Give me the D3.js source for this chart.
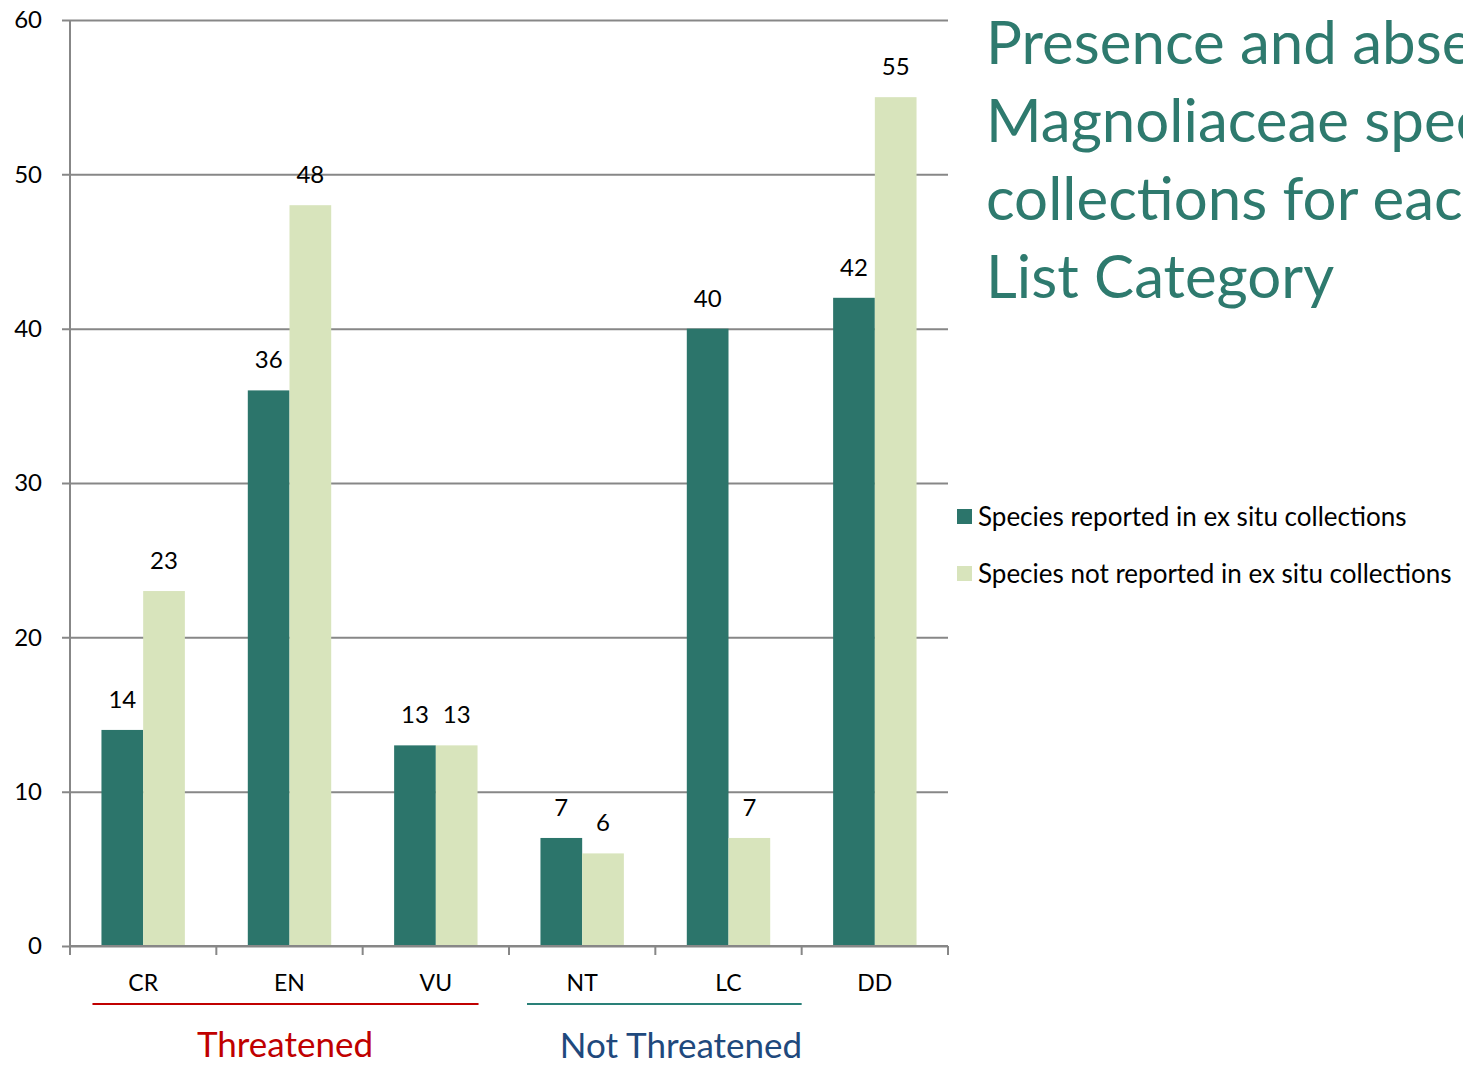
<!DOCTYPE html>
<html>
<head>
<meta charset="utf-8">
<script src="https://cdn.jsdelivr.net/npm/d3@7"></script>
<style>
  html, body { margin: 0; padding: 0; background: #fff; overflow: hidden; }
  svg { display: block; font-family: Lato, "Open Sans", sans-serif; }
</style>
</head>
<body>
<svg id="chart" width="1463" height="1066"></svg>
<script>
// Red List categories and species counts
const categories = ["CR", "EN", "VU", "NT", "LC", "DD"];
const reported = [14, 36, 13, 7, 40, 42];
const notReported = [23, 48, 13, 6, 7, 55];
const seriesNames = ["Species reported in ex situ collections", "Species not reported in ex situ collections"];
const yTicks = [0, 10, 20, 30, 40, 50, 60];
const titleLines = ["Presence and absence of", "Magnoliaceae species in ex situ", "collections for each Red", "List Category"];
const groups = [
  { name: "Threatened", from: "CR", to: "VU", color: "#c00000", line: "#c00000" },
  { name: "Not Threatened", from: "NT", to: "LC", color: "#1f497d", line: "#2a8078" }
];

(function () {
  const colors = ["#2c756b", "#d8e4bc"];
  const gridColor = "#878787";

  const svg = d3.select("#chart");
  const plotLeft = 70, plotRight = 948, plotTop = 20, plotBottom = 946;

  const x = d3.scaleBand().domain(categories).range([plotLeft, plotRight]).paddingInner(0.43).paddingOuter(0.215);
  const xSub = d3.scaleBand().domain([0, 1]).range([0, x.bandwidth()]);
  const y = d3.scaleLinear().domain([0, 60]).range([plotBottom, plotTop]);
  const step = x.step();
  const cellStart = c => plotLeft + categories.indexOf(c) * step;

  // horizontal gridlines + left ticks
  const yAxis = d3.axisLeft(y).tickValues(yTicks).tickSize(-(plotRight - plotLeft));
  const gy = svg.append("g").attr("transform", `translate(${plotLeft},0)`).call(yAxis);
  gy.select(".domain").remove();
  gy.selectAll(".tick line").attr("stroke", gridColor).attr("stroke-width", 2).attr("x1", -8);
  gy.selectAll(".tick text").attr("font-size", 24).attr("fill", "#000").attr("x", -28)
    .attr("font-family", "Lato, 'Open Sans', sans-serif");

  // vertical axis line
  svg.append("line").attr("x1", plotLeft).attr("x2", plotLeft).attr("y1", plotTop).attr("y2", plotBottom + 8)
    .attr("stroke", gridColor).attr("stroke-width", 2);

  // bars
  const data = categories.map((c, i) => ({ cat: c, values: [reported[i], notReported[i]] }));
  const g = svg.append("g");
  data.forEach(d => {
    d.values.forEach((v, k) => {
      g.append("rect")
        .attr("x", x(d.cat) + xSub(k))
        .attr("y", y(v))
        .attr("width", xSub.bandwidth())
        .attr("height", y(0) - y(v))
        .attr("fill", colors[k]);
      g.append("text")
        .attr("x", x(d.cat) + xSub(k) + xSub.bandwidth() / 2)
        .attr("y", y(v) - 22)
        .attr("text-anchor", "middle")
        .attr("font-size", 24)
        .attr("fill", "#000")
        .text(v);
    });
  });

  // bottom axis with ticks at category boundaries
  svg.append("line").attr("x1", plotLeft).attr("x2", plotRight).attr("y1", plotBottom).attr("y2", plotBottom)
    .attr("stroke", gridColor).attr("stroke-width", 2);
  d3.range(categories.length + 1).forEach(i => {
    const tx = plotLeft + i * step;
    svg.append("line").attr("x1", tx).attr("x2", tx).attr("y1", plotBottom).attr("y2", plotBottom + 9)
      .attr("stroke", gridColor).attr("stroke-width", 2);
  });
  categories.forEach(c => {
    svg.append("text")
      .attr("x", x(c) + x.bandwidth() / 2)
      .attr("y", 991)
      .attr("text-anchor", "middle")
      .attr("font-size", 23)
      .attr("fill", "#000")
      .text(c);
  });

  // group brackets under the category labels
  const spans = [
    [x("CR") - 9, x("VU") + x.bandwidth() + 1],
    [cellStart("NT") + 18, cellStart("LC") + step]
  ];
  const labelPos = [[285, 1057], [681, 1058]];
  groups.forEach((gr, i) => {
    svg.append("line").attr("x1", spans[i][0]).attr("x2", spans[i][1]).attr("y1", 1004).attr("y2", 1004)
      .attr("stroke", gr.line).attr("stroke-width", 2);
    svg.append("text")
      .attr("x", labelPos[i][0])
      .attr("y", labelPos[i][1])
      .attr("text-anchor", "middle")
      .attr("font-size", 35)
      .attr("fill", gr.color)
      .text(gr.name);
  });

  // title
  const title = svg.append("text").attr("x", 986).attr("font-size", 60).attr("fill", "#2e7a6e");
  titleLines.forEach((t, i) => {
    title.append("tspan").attr("x", 986).attr("y", 64 + i * 78).text(t);
  });

  // legend
  seriesNames.forEach((s, i) => {
    const ly = 509 + i * 57;
    svg.append("rect").attr("x", 957).attr("y", ly).attr("width", 15).attr("height", 15).attr("fill", colors[i]);
    svg.append("text").attr("x", 978).attr("y", ly + 17).attr("font-size", 26).attr("fill", "#000").text(s);
  });
})();
</script>
</body>
</html>
